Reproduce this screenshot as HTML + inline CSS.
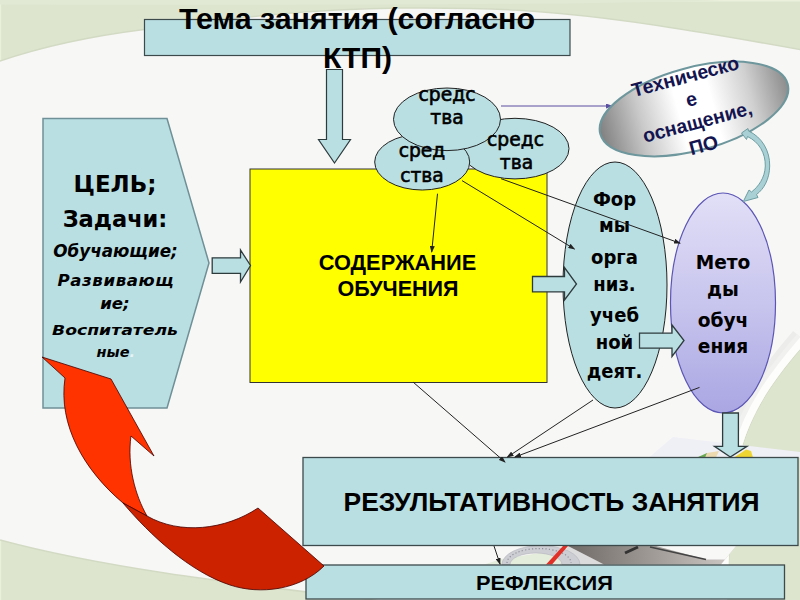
<!DOCTYPE html>
<html lang="ru">
<head>
<meta charset="utf-8">
<title>Тема занятия</title>
<style>
html,body{margin:0;padding:0;background:#f7f7f6;}
body{width:800px;height:600px;overflow:hidden;position:relative;}
svg{position:absolute;left:0;top:0;display:block;}
.ar{font-family:"Liberation Sans",Arial,sans-serif;font-weight:bold;}
.vd{font-family:"DejaVu Sans",Verdana,sans-serif;}
.vb{font-family:"DejaVu Sans",Verdana,sans-serif;font-weight:bold;}
.vbi{font-family:"DejaVu Sans",Verdana,sans-serif;font-weight:bold;font-style:italic;}
</style>
</head>
<body>
<svg width="800" height="600" viewBox="0 0 800 600">
<defs>
  <linearGradient id="gPurple" x1="0" y1="0" x2="0" y2="1">
    <stop offset="0" stop-color="#e2dff7"/>
    <stop offset="0.5" stop-color="#c8c5ee"/>
    <stop offset="1" stop-color="#a9a6e3"/>
  </linearGradient>
  <linearGradient id="gGray" x1="0" y1="0" x2="1" y2="0">
    <stop offset="0" stop-color="#808080"/>
    <stop offset="0.22" stop-color="#c9c9c9"/>
    <stop offset="0.42" stop-color="#ffffff"/>
    <stop offset="0.6" stop-color="#ffffff"/>
    <stop offset="0.8" stop-color="#d0d0d0"/>
    <stop offset="1" stop-color="#8c8c8c"/>
  </linearGradient>
  <linearGradient id="gBook" x1="0" y1="0" x2="1" y2="0">
    <stop offset="0" stop-color="#6f6a66"/>
    <stop offset="1" stop-color="#cfcac6"/>
  </linearGradient>
  <marker id="mh" markerWidth="7" markerHeight="5" refX="6" refY="2.500" orient="auto" markerUnits="userSpaceOnUse">
    <path d="M0,0 L7,2.500 L0,5 Z" fill="#222"/>
  </marker>
  <marker id="mp" markerWidth="7" markerHeight="5" refX="6" refY="2.500" orient="auto" markerUnits="userSpaceOnUse">
    <path d="M0,0 L7,2.500 L0,5 Z" fill="#5a4fa0"/>
  </marker>
  <clipPath id="blobclip">
    <path d="M-6,63 L0,61 C50,44 100,35 144,29.500 C220,20 300,9 400,8 C470,7.500 520,9 560,13.500 C620,19 680,28 800,49.500 L806,50.500 L806,342 L800,349 C775,378 752,410 741,450 C733,490 729,530 727,606 L420,606 C300,590 130,575 0,540 L-6,538 Z"/>
  </clipPath>
</defs>

<!-- background -->
<rect x="0" y="0" width="800" height="600" fill="#dde5cf"/>
<rect x="0" y="0" width="800" height="1.500" fill="#eaf0dc"/><rect x="0" y="0" width="1.200" height="600" fill="#eaf0dc"/>
<path id="blob" d="M-6,63 L0,61 C50,44 100,35 144,29.500 C220,20 300,9 400,8 C470,7.500 520,9 560,13.500 C620,19 680,28 800,49.500 L806,50.500 L806,342 L800,349 C775,378 752,410 741,450 C733,490 729,530 727,606 L420,606 C300,590 130,575 0,540 L-6,538 Z" fill="#f7f7f6" stroke="#d3dac4" stroke-width="1.500"/>
<path d="M0,0 L725,0 C620,4 400,5.500 0,4.500 Z" fill="#e1e8d4"/>
<g clip-path="url(#blobclip)" fill="none">
  <path d="M806,342 C775,378 752,410 741,450 C733,490 729,530 727,600" stroke="#ececea" stroke-width="34"/>
  <path d="M806,342 C775,378 752,410 741,450 C733,490 729,530 727,600" stroke="#f1f1ef" stroke-width="24"/>
  <path d="M806,342 C775,378 752,410 741,450 C733,490 729,530 727,600" stroke="#fdfdfc" stroke-width="15"/>
</g>

<!-- background picture (paper, protractor) -->
<path d="M649,457.500 L673,437 L800,452 L800,457.500 Z" fill="#efeff6"/>
<path d="M697,457.500 L707,453 L709,456 L705,457.500 Z" fill="#6aaa55"/><path d="M705,457.500 L707,453 L719,451 L716,457.500 Z" fill="#ecd9b0"/>
<path d="M734,457.500 L746,449.500 L751,451 L753,457.500 Z" fill="#efd534"/>
<g id="gap">
  <path d="M484,564.500 L502,559 L540,553 L566,546 L604,564.500 Z" fill="#e4ecdb"/>
  <path d="M560,564.500 L568,546 L604,564.500 Z" fill="#dcdcdc"/>
  <path d="M502,564.500 A37,18 0 0 1 580,564.500 L562,564.500 A26,11.500 0 0 0 510,564.500 Z" fill="#cdcdd4" stroke="#b4b4bc" stroke-width="0.600"/>
  <path d="M507,563 A31,14 0 0 1 571,563" fill="none" stroke="#8f8f99" stroke-width="1.200" stroke-dasharray="1.200 2.200"/>
  <path d="M546,564.500 L563,546 L568,546 L552,564.500 Z" fill="#e03028"/>
  <path d="M568,546 L736,546 L721,564.500 L604,564.500 Z" fill="url(#gBook)"/>
  <path d="M656,546 L736,546 L725,559.500 L706,559.500 Z" fill="#f8f8f7"/>
  <path d="M650,547 L706,559.500" stroke="#444" stroke-width="1.600" fill="none"/>
  <path d="M625,553 L638,547" stroke="#333" stroke-width="3" fill="none"/>
</g>

<!-- title box -->
<rect x="144.500" y="19.500" width="425.500" height="36" fill="#b9dfe3" stroke="#3c4a4c" stroke-width="1.200"/>
<text class="ar" x="179" y="29" font-size="30" textLength="356" lengthAdjust="spacingAndGlyphs" fill="#000">Тема занятия (согласно</text>
<text class="ar" x="323" y="68" font-size="30" fill="#000">КТП)</text>

<!-- down arrow from title -->
<path d="M326.500,69.500 L342.500,69.500 L342.500,139.500 L350.500,139.500 L334.500,163 L318.500,139.500 L326.500,139.500 Z" fill="#b9dfe3" stroke="#2e3b3d" stroke-width="1.200"/>

<!-- pentagon -->
<path d="M43,118.500 L167,118.500 L209,263 L167,408 L43,408 Z" fill="#b9dfe3" stroke="#6f9096" stroke-width="1.500"/>
<text class="vb" x="115" y="191.500" font-size="23" text-anchor="middle">ЦЕЛЬ;</text>
<text class="vb" x="115" y="227" font-size="22.500" text-anchor="middle">Задачи:</text>
<text class="vbi" x="115.500" y="257" font-size="16.800" text-anchor="middle">Обучающие;</text>
<text class="vbi" x="57.600" y="285.500" font-size="16.600" textLength="116" lengthAdjust="spacing">Развивающ</text>
<text class="vbi" x="115" y="308.500" font-size="16.600" text-anchor="middle">ие;</text>
<text class="vbi" x="52" y="335.400" font-size="14.500" textLength="126" lengthAdjust="spacingAndGlyphs">Воспитатель</text>
<text class="vbi" x="96.500" y="357" font-size="14.500">ные<tspan fill="#e8f4f5">.</tspan></text>

<!-- yellow box -->
<rect x="250" y="169" width="297" height="213.500" fill="#ffff00" stroke="#333" stroke-width="1"/>
<text class="ar" x="397.500" y="270" font-size="22" text-anchor="middle" textLength="157.500" lengthAdjust="spacingAndGlyphs">СОДЕРЖАНИЕ</text>
<text class="ar" x="398" y="296" font-size="22" text-anchor="middle" textLength="121" lengthAdjust="spacingAndGlyphs">ОБУЧЕНИЯ</text>

<!-- small arrow pentagon -> yellow -->
<path d="M212.200,257.800 L240.500,257.800 L240.500,250 L250.500,265.500 L240.500,282 L240.500,273.300 L212.200,273.300 Z" fill="#b9dfe3" stroke="#2e3b3d" stroke-width="1.300"/>

<!-- sredstva ellipses -->
<ellipse cx="515" cy="148.600" rx="54" ry="30.300" fill="#b9dfe3" stroke="#222" stroke-width="1"/>
<ellipse cx="422.200" cy="162" rx="47.500" ry="28" fill="#b9dfe3" stroke="#222" stroke-width="1"/>
<ellipse cx="447" cy="119.300" rx="53.500" ry="31.300" fill="#b9dfe3" stroke="#222" stroke-width="1"/>
<g class="vd" font-size="18.700" text-anchor="middle" stroke="#000" stroke-width="0.600">
<text x="447" y="101">средс</text>
<text x="447" y="124">тва</text>
<text x="515.500" y="146.300">средс</text>
<text x="516.500" y="169">тва</text>
<text x="422" y="156.500">сред</text>
<text x="422" y="181.500">ства</text>
</g>

<!-- purple line -->
<line x1="501" y1="106" x2="612" y2="106" stroke="#5a4fa0" stroke-width="1" marker-end="url(#mp)"/>

<!-- Forms ellipse -->
<ellipse cx="615" cy="285" rx="52" ry="123" fill="#b9dfe3" stroke="#222" stroke-width="1"/>
<g class="vb" font-size="19.200" text-anchor="middle" transform="translate(614.500,0) scale(0.940,1)">
<text x="0" y="206">Фор</text>
<text x="0" y="232.500">мы</text>
<text x="0" y="263.700">орга</text>
<text x="0" y="291">низ.</text>
<text x="0" y="322.500">учеб</text>
<text x="0" y="348.800">ной</text>
<text x="0" y="378.300">деят.</text>
</g>

<!-- arrow yellow -> forms -->
<path d="M532.500,276.500 L564.500,276.500 L564.500,267.500 L576.500,284 L564.500,300 L564.500,291.800 L532.500,291.800 Z" fill="#b9dfe3" stroke="#2e3b3d" stroke-width="1.300"/>

<!-- Methods ellipse -->
<ellipse cx="723" cy="303" rx="52.500" ry="110" fill="url(#gPurple)" stroke="#5b55b5" stroke-width="1.200"/>
<g class="vb" font-size="19.600" text-anchor="middle" transform="translate(723,0) scale(0.950,1)">
<text x="0" y="269.200">Мето</text>
<text x="0" y="296">ды</text>
<text x="0" y="326.600">обуч</text>
<text x="0" y="352.600">ения</text>
</g>

<!-- arrow forms -> methods -->
<path d="M639.500,333.200 L672,333.200 L672,325 L684,340.500 L672,356.500 L672,348.200 L639.500,348.200 Z" fill="#b9dfe3" stroke="#2e3b3d" stroke-width="1.300"/>

<!-- Tech ellipse -->
<g transform="translate(694,109) rotate(-15)">
  <ellipse cx="0" cy="0" rx="97" ry="41.500" fill="url(#gGray)" stroke="#6d979c" stroke-width="2"/>
  <g class="ar" font-size="19.500" text-anchor="middle" fill="#141450">
  <text x="0" y="-27">Техническо</text>
  <text x="0" y="-3.500">е</text>
  <text x="0" y="20">оснащение,</text>
  <text x="0" y="44">ПО</text>
  </g>
</g>

<!-- curved double arrow -->
<path d="M741.500,133 L748,128.500 L748.500,131 C762,137 770,151 769.700,166 C769.500,179 764,189 756.500,194.500 L758,197.500 L743.300,201.500 L749,190 L751.500,192 C758,187 765,178 765.300,166 C765.500,153 759,142 747.500,136.500 L746.500,139.500 Z" fill="#a9d0d4" stroke="#6e9ea3" stroke-width="1"/>

<!-- result box -->
<rect x="303" y="457.500" width="495" height="88" fill="#b9dfe3" stroke="#3c4a4c" stroke-width="1.300"/>
<text class="ar" x="343.500" y="511" font-size="26" textLength="416" lengthAdjust="spacingAndGlyphs">РЕЗУЛЬТАТИВНОСТЬ ЗАНЯТИЯ</text>

<!-- reflex box -->
<rect x="306" y="565" width="478.500" height="34" fill="#b9dfe3" stroke="#3c4a4c" stroke-width="1.300"/>
<text class="ar" x="476" y="589.500" font-size="20.500" textLength="137" lengthAdjust="spacingAndGlyphs">РЕФЛЕКСИЯ</text>

<!-- down arrow methods -> result -->
<path d="M722.600,413 L738.400,413 L738.400,446.400 L747,446.400 L730.300,457 L714.500,446.400 L722.600,446.400 Z" fill="#b9dfe3" stroke="#2e3b3d" stroke-width="1.300"/>

<!-- thin arrows -->
<g stroke="#222" stroke-width="1" fill="none">
  <line x1="437.500" y1="193.700" x2="431.700" y2="252" marker-end="url(#mh)"/>
  <line x1="462" y1="180.600" x2="574.400" y2="249" marker-end="url(#mh)"/>
  <line x1="501" y1="178.700" x2="680" y2="243.200" marker-end="url(#mh)"/>
  <line x1="413" y1="382" x2="505" y2="462" marker-end="url(#mh)"/>
  <line x1="593" y1="400" x2="507.500" y2="457" marker-end="url(#mh)"/>
  <line x1="699.500" y1="387.400" x2="515" y2="457" marker-end="url(#mh)"/>
  <line x1="494" y1="546" x2="500" y2="564" marker-end="url(#mh)"/>
</g>

<!-- red curved arrow -->
<path d="M42,357 L111,379 L154,456 L131,436 C127,465 135,495 147,516 L123,503 C84,470 58,425 65,378 Z" fill="#ff3300" stroke="#400" stroke-width="0.800"/>
<path d="M123,503 L147,516 C180,535 225,530 258,508 L324,566 C300,590 260,595 230,585 C190,572 150,535 123,503 Z" fill="#cc2200" stroke="#400" stroke-width="0.800"/>

</svg>
</body>
</html>
